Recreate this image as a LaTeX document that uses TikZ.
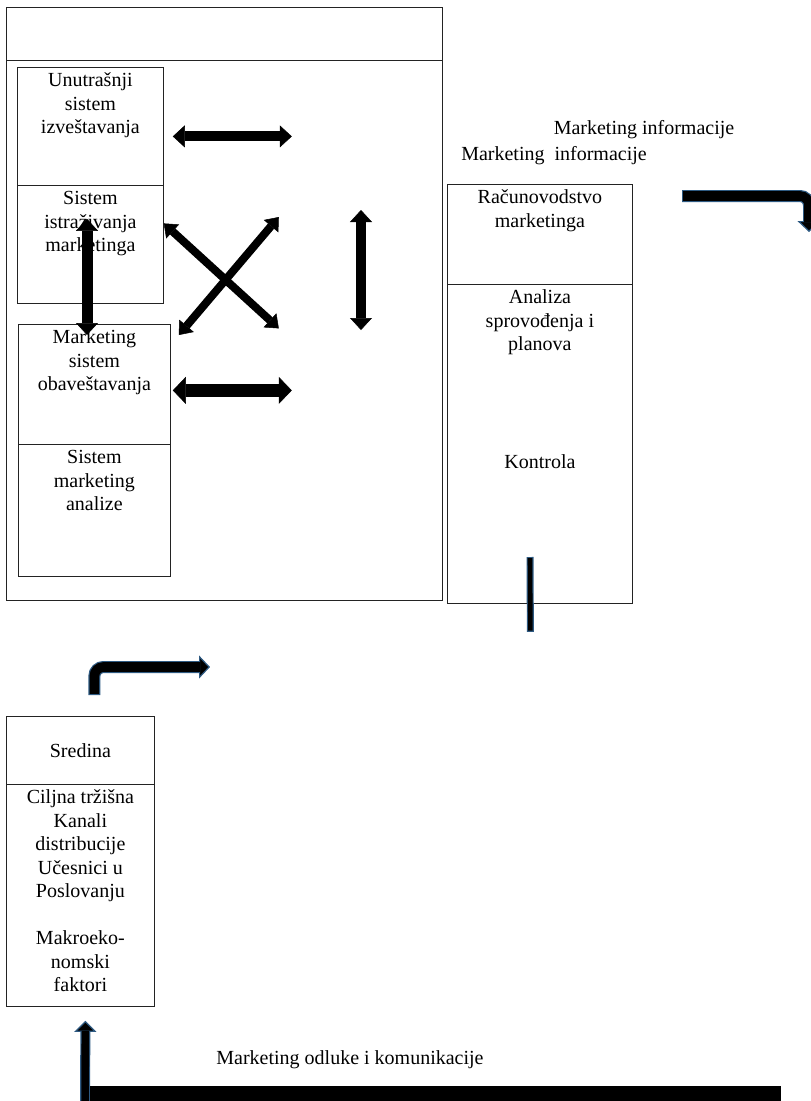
\documentclass[tikz,border=0pt]{standalone}
\usepackage{fontspec}
\setmainfont{Liberation Serif}
\usetikzlibrary{arrows.meta,positioning,calc}
\definecolor{linegray}{RGB}{35,35,35}
\definecolor{arrowblue}{RGB}{46,90,130}

\begin{document}
\begin{tikzpicture}[x=1pt, y=-1pt,
    frame/.style={draw=linegray, line width=0.8pt, anchor=north west, inner sep=0pt},
    txt/.style={anchor=north, inner sep=0pt, yshift=-3pt, align=center, font=\fontsize{20}{23.5}\selectfont},
    lbl/.style={anchor=base, inner sep=0pt, font=\fontsize{20}{23.5}\selectfont},
    dbl/.style={line width=10pt, {Triangle[length=12pt,width=22pt,line width=0.5pt]}-{Triangle[length=12pt,width=22pt,line width=0.5pt]}},
    fat/.style={line width=13pt, {Triangle[length=13pt,width=27pt,line width=0.5pt]}-{Triangle[length=13pt,width=27pt,line width=0.5pt]}},
    slim/.style={line width=8pt, {Triangle[length=12pt,width=19pt,line width=0.5pt]}-{Triangle[length=12pt,width=19pt,line width=0.5pt]}},
    bluearrow/.style={draw=arrowblue, line width=12pt, rounded corners=9pt,
        -{Triangle[fill=black, line width=1.2pt, length=11pt, width=23pt]},
        postaction={draw=black, line width=9.6pt, arrows=-, shorten <=1.2pt, shorten >=10pt}},
    thinblue/.style={draw=arrowblue, line width=10pt,
        -{Triangle[fill=black, line width=1.2pt, length=11pt, width=22pt]},
        postaction={draw=black, line width=7.6pt, arrows=-, shorten <=1.2pt, shorten >=10pt}},
    bar/.style={draw=arrowblue, line width=7pt,
        postaction={draw=black, line width=4.6pt, shorten <=1.2pt, shorten >=1.2pt}}
]
\clip (0,0) rectangle (811,1101);

% information system frame
\node[frame, minimum width=436pt, minimum height=593pt] (outer) at (6,7) {};
\node[frame, minimum width=436pt, minimum height=53pt] (title) at (6,7) {};

\node[frame, minimum width=146pt, minimum height=118pt] (unutr) at (17,67) {};
\node[txt] at (unutr.north) {\strut Unutrašnji\\sistem\\izveštavanja};
\node[frame, minimum width=146pt, minimum height=118pt] (istr) at (17,185) {};
\node[txt] at (istr.north) {\strut Sistem\\istraživanja\\marketinga};
\node[frame, minimum width=152pt, minimum height=120pt] (obav) at (18,324) {};
\node[txt] at (obav.north) {\strut Marketing\\sistem\\obaveštavanja};
\node[frame, minimum width=152pt, minimum height=132pt] (anal) at (18,444) {};
\node[txt] at (anal.north) {\strut Sistem\\marketing\\analize};

% managers
\node[frame, minimum width=185pt, minimum height=100pt] (racun) at (447,184) {};
\node[txt] at (racun.north) {\strut Računovodstvo\\marketinga};
\node[frame, minimum width=185pt, minimum height=319pt] (plan) at (447,284) {};
\node[txt] at (plan.north) {\strut Analiza\\sprovođenja i\\planova};
\node[txt, yshift=-164.5pt] at (plan.north) {\strut Kontrola};

\node[lbl] (info1) at (644,134) {Marketing informacije};
\node[lbl] (info2) at (554,160) {Marketing\ \ informacije};

% environment
\node[frame, minimum width=148pt, minimum height=68pt] (sred) at (6,716) {};
\node[font=\fontsize{20}{23.5}\selectfont, inner sep=0pt] at (sred.center) {Sredina};
\node[frame, minimum width=148pt, minimum height=222pt] (cilj) at (6,784) {};
\node[txt] at (cilj.north) {\strut Ciljna tržišna\\Kanali\\distribucije\\Učesnici u\\Poslovanju\\[23.5pt]Makroeko-\\nomski\\faktori};

\node[lbl] (odl) at (350,1064) {Marketing odluke i komunikacije};

% arrows inside the frame
\coordinate (h1) at ($(unutr.east)+(128,10)$);
\coordinate (h2) at ($(obav.east)+(121,6)$);
\coordinate (xa) at ($(istr.east)+(115,84)$);
\coordinate (xb) at ($(obav.north east)+(108,-107)$);
\coordinate (va) at (361,210);
\coordinate (vb) at (361,330);
\draw[dbl] ($(unutr.east)+(9,10)$) -- (h1);
\draw[fat] ($(obav.east)+(2,6)$) -- (h2);
\draw[slim] ($(istr.east)+(0,-21)$) -- (xa);
\draw[slim] ($(obav.north east)+(8,11)$) -- (xb);
\draw[dbl] (va) -- (vb);
\draw[dbl, line width=11pt] ($(istr.south west)+(70,-85)$) -- ($(obav.north west)+(69,11)$);

% flow arrows
\coordinate (tr) at (809,232);
\draw[bluearrow] (682,196) -- (809,196) -- (tr);
\draw[bar] (530,557) -- ($(plan.south)+(-9.5,28)$);
\coordinate (tl) at (210,667);
\draw[bluearrow] ($(sred.north)+(14,-21)$) -- ($(sred.north)+(14,-49)$) -- (tl);
\draw[thinblue] (85,1112) -- ($(cilj.south)+(5,14)$);
\draw[line width=17pt] (90,1094) -- (781,1094);

\end{tikzpicture}
\end{document}
